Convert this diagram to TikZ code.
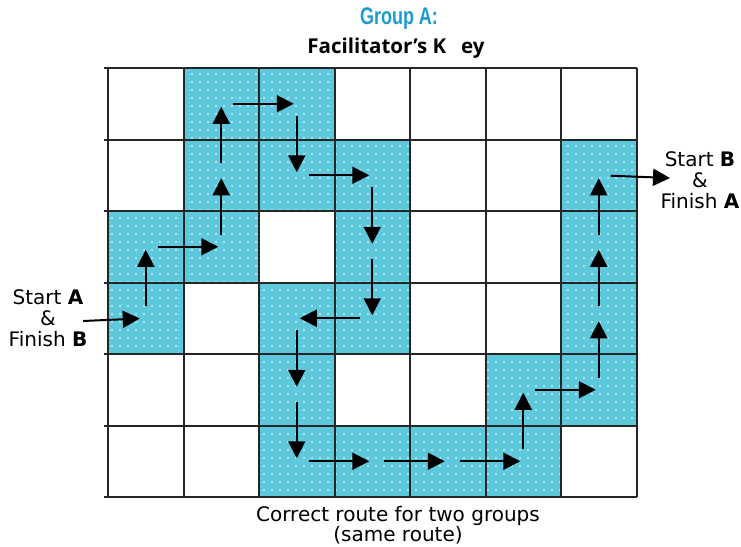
\documentclass[tikz,border=0pt]{standalone}
\usepackage{fontspec}
\setmainfont{DejaVu Sans}
\newfontfamily\titlefont{Liberation Sans}
\newfontfamily\keyfont{Open Sans}
\usetikzlibrary{arrows.meta, patterns.meta}
\definecolor{routecyan}{RGB}{94,200,220}
\definecolor{titleblue}{RGB}{26,154,208}
\tikzdeclarepattern{name=whitedots, type=uncolored,
  bounding box={(-1pt,-1pt) and (1pt,1pt)}, tile size={(8pt,8pt)},
  code={\fill (0pt,0pt) circle (0.8pt);}}
\tikzset{
  cellfill/.style={fill=routecyan},
  celldots/.style={pattern=whitedots, pattern color=white},
  gridline/.style={line width=2pt, black!85},
  arr/.style={-{Triangle[length=17pt,width=17pt]}, line width=2pt,
              shorten <=12pt, shorten >=3pt},
  endlabel/.style={align=center, font=\fontsize{20}{21}\selectfont},
}

\begin{document}
\begin{tikzpicture}[x=1pt, y=-1pt]
  \useasboundingbox (0,0) rectangle (741,546);
  % cell centres
  \foreach \i in {0,...,6}
    \foreach \j in {0,...,5}
      \coordinate (c-\i-\j) at ({108+75.5*\i+37.75}, {68+71.5*\j+35.75});
  % shaded route cells
  \foreach \i/\j in {1/0,2/0,1/1,2/1,3/1,6/1,0/2,1/2,3/2,6/2,0/3,2/3,3/3,6/3,
                     2/4,5/4,6/4,2/5,3/5,4/5,5/5} {
    \fill[cellfill] ({108+75.5*\i}, {68+71.5*\j}) rectangle ++(75.5,71.5);
    \fill[celldots] ({108+75.5*\i}, {68+71.5*\j}) rectangle ++(75.5,71.5);
  }
  % grid
  \foreach \j in {0,...,6}
    \draw[gridline] (104,{68+71.5*\j}) -- (636.5,{68+71.5*\j});
  \foreach \i in {0,...,7}
    \draw[gridline] ({108+75.5*\i},68) -- ({108+75.5*\i},497);
  % route
  \coordinate (startA) at (83,321);
  \coordinate (startB) at (670,178);
  \draw[arr, shorten <=0pt, shorten >=6pt] (startA) -- (c-0-3);
  \foreach \a/\b in {0-3/0-2, 0-2/1-2, 1-2/1-1, 1-1/1-0, 1-0/2-0, 2-0/2-1,
                     2-1/3-1, 3-1/3-2, 3-2/3-3, 3-3/2-3, 2-3/2-4, 2-4/2-5,
                     2-5/3-5, 3-5/4-5, 4-5/5-5, 5-5/5-4, 5-4/6-4, 6-4/6-3,
                     6-3/6-2, 6-2/6-1}
    \draw[arr] (c-\a) -- (c-\b);
  \draw[arr, shorten >=0pt] (c-6-1) -- (startB);
  % labels
  \node[font=\titlefont\bfseries\fontsize{24}{28}\selectfont, text=titleblue]
    (grp) at (399,19) {\scalebox{0.75}[1]{Group A:}};
  \node[font=\keyfont\bfseries\fontsize{20.5}{21}\selectfont] (key) at (396,48)
    {Facilitator’s K\hspace{15pt}ey};
  \node[endlabel] (labA) at (48,318) {Start \textbf{A}\\\&\\Finish \textbf{B}};
  \node[endlabel] (labB) at (700,180) {Start \textbf{B}\\\&\\Finish \textbf{A}};
  \node[endlabel, font=\fontsize{20}{19}\selectfont] (cap) at (398,525)
    {Correct route for two groups\\(same route)};
\end{tikzpicture}
\end{document}
